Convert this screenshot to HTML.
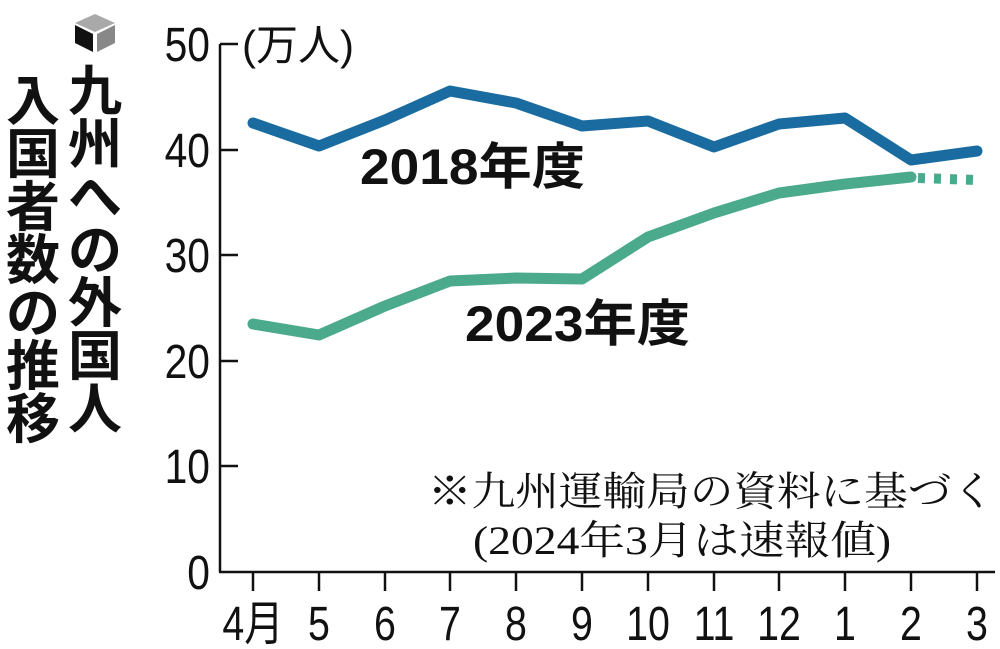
<!DOCTYPE html>
<html><head><meta charset="utf-8"><style>
body{margin:0;background:#fff;}
svg{display:block;}
</style></head><body>
<svg width="1000" height="649" viewBox="0 0 1000 649" xmlns="http://www.w3.org/2000/svg">
<polygon points="95,14 115,23 95,32 75,23" fill="#a9a9a9"/>
<polygon points="75,25 93,34 93,52 75,43" fill="#111"/>
<polygon points="97,34 115,25 115,43 97,52" fill="#888"/>
<g font-family="'Liberation Sans','Noto Sans CJK JP',sans-serif" font-weight="bold" font-size="54" fill="#111" text-anchor="middle">
<text x="95" y="110">九</text><text x="95" y="163">州</text><text x="95" y="216">へ</text><text x="95" y="269">の</text><text x="95" y="322">外</text><text x="95" y="375">国</text><text x="95" y="428">人</text>
<text x="33" y="120">入</text><text x="33" y="173">国</text><text x="33" y="226">者</text><text x="33" y="279">数</text><text x="33" y="332">の</text><text x="33" y="385">推</text><text x="33" y="438">移</text>
</g>
<g stroke="#111" stroke-width="2.5" fill="none">
<line x1="220" y1="44" x2="220" y2="572"/>
<line x1="219" y1="572" x2="995" y2="572"/>
<line x1="220" y1="44" x2="238" y2="44"/><line x1="220" y1="150" x2="238" y2="150"/><line x1="220" y1="255" x2="238" y2="255"/><line x1="220" y1="361" x2="238" y2="361"/><line x1="220" y1="466" x2="238" y2="466"/>
<line x1="253" y1="572" x2="253" y2="591"/><line x1="319" y1="572" x2="319" y2="591"/><line x1="385" y1="572" x2="385" y2="591"/><line x1="450" y1="572" x2="450" y2="591"/><line x1="516" y1="572" x2="516" y2="591"/><line x1="582" y1="572" x2="582" y2="591"/><line x1="648" y1="572" x2="648" y2="591"/><line x1="714" y1="572" x2="714" y2="591"/><line x1="779" y1="572" x2="779" y2="591"/><line x1="845" y1="572" x2="845" y2="591"/><line x1="911" y1="572" x2="911" y2="591"/><line x1="977" y1="572" x2="977" y2="591"/>
</g>
<g font-family="'Liberation Sans','Noto Sans CJK JP',sans-serif" font-size="48" fill="#111">
<g text-anchor="end">
<text x="210" y="61" transform="translate(210 0) scale(0.85 1) translate(-210 0)">50</text>
<text x="210" y="167" transform="translate(210 0) scale(0.85 1) translate(-210 0)">40</text>
<text x="210" y="272" transform="translate(210 0) scale(0.85 1) translate(-210 0)">30</text>
<text x="210" y="378" transform="translate(210 0) scale(0.85 1) translate(-210 0)">20</text>
<text x="210" y="483" transform="translate(210 0) scale(0.85 1) translate(-210 0)">10</text>
<text x="210" y="589" transform="translate(210 0) scale(0.85 1) translate(-210 0)">0</text>
</g>
<text x="242" y="60" font-size="42">(万人)</text>
<g text-anchor="middle">
<text x="253" y="640" transform="translate(253 0) scale(0.82 1) translate(-253 0)">4月</text>
<text x="319" y="640" transform="translate(319 0) scale(0.82 1) translate(-319 0)">5</text>
<text x="385" y="640" transform="translate(385 0) scale(0.82 1) translate(-385 0)">6</text>
<text x="450" y="640" transform="translate(450 0) scale(0.82 1) translate(-450 0)">7</text>
<text x="516" y="640" transform="translate(516 0) scale(0.82 1) translate(-516 0)">8</text>
<text x="582" y="640" transform="translate(582 0) scale(0.82 1) translate(-582 0)">9</text>
<text x="648" y="640" transform="translate(648 0) scale(0.82 1) translate(-648 0)">10</text>
<text x="714" y="640" transform="translate(714 0) scale(0.82 1) translate(-714 0)">11</text>
<text x="779" y="640" transform="translate(779 0) scale(0.82 1) translate(-779 0)">12</text>
<text x="845" y="640" transform="translate(845 0) scale(0.82 1) translate(-845 0)">1</text>
<text x="911" y="640" transform="translate(911 0) scale(0.82 1) translate(-911 0)">2</text>
<text x="977" y="640" transform="translate(977 0) scale(0.82 1) translate(-977 0)">3</text>
</g>
</g>
<polyline fill="none" stroke="#1a6ca0" stroke-width="11" stroke-linejoin="round" stroke-linecap="round" points="253,123 319,146 385,120 450,91 516,103 582,126 648,121 714,147 779,124 845,118 911,160 977,151"/>
<polyline fill="none" stroke="#4ba98c" stroke-width="11" stroke-linejoin="round" stroke-linecap="round" points="253,324 319,335 385,306 450,281 516,278 582,279 648,237 714,213 779,193 845,184 911,177"/>
<line x1="918" y1="178" x2="977" y2="180" stroke="#4ba98c" stroke-width="10" stroke-dasharray="7,9"/>
<g font-family="'Liberation Sans','Noto Sans CJK JP',sans-serif" font-weight="bold" font-size="50" fill="#111">
<text x="360" y="184" textLength="225" lengthAdjust="spacingAndGlyphs">2018年度</text>
<text x="465" y="341" textLength="225" lengthAdjust="spacingAndGlyphs">2023年度</text>
</g>
<g font-family="'Liberation Serif','Noto Serif CJK SC',serif" font-size="40" fill="#111">
<text x="428" y="505" textLength="567" lengthAdjust="spacingAndGlyphs">※九州運輸局の資料に基づく</text>
<text x="473" y="554" textLength="418" lengthAdjust="spacingAndGlyphs">(2024年3月は速報値)</text>
</g>
</svg>
</body></html>
